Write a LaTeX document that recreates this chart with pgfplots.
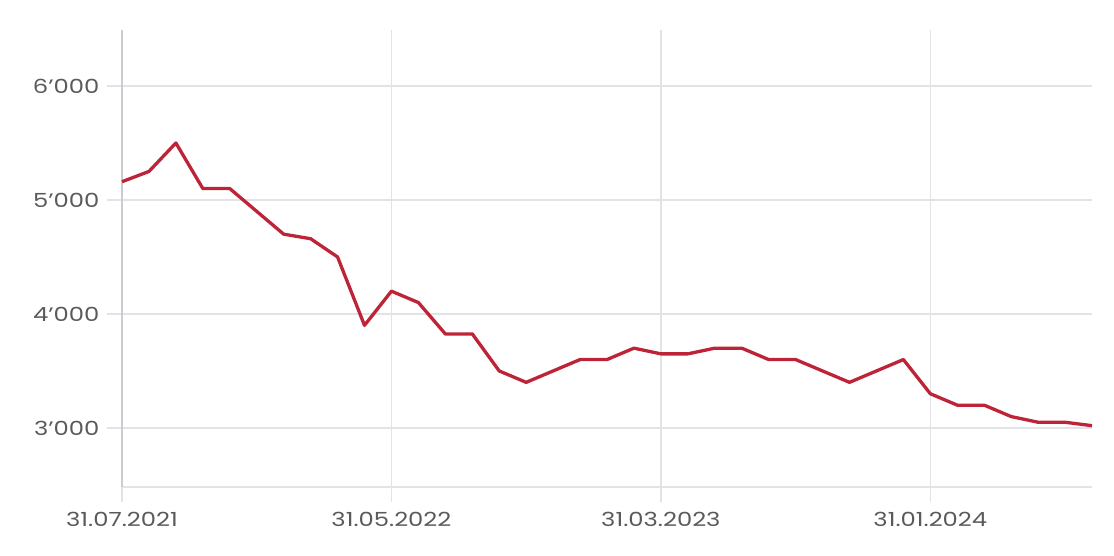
\documentclass[border=0pt]{standalone}
\usepackage{fontspec}
\setmainfont[FakeStretch=1.25]{Poppins}
\usepackage{pgfplots}
\pgfplotsset{compat=1.18}
\definecolor{linered}{HTML}{BE2438}
\definecolor{gridgray}{HTML}{E1E3E6}
\definecolor{axisgray}{HTML}{C9CCD1}
\definecolor{labelgray}{HTML}{5A5A5A}
\begin{document}
\begin{tikzpicture}
\useasboundingbox (-122bp,-69bp) rectangle (992bp,487bp);
\begin{axis}[
  scale only axis, width=970bp, height=457bp,
  xmin=0, xmax=36, ymin=2482, ymax=6491,
  axis lines*=left,
  x axis line style={draw=gridgray, line width=1.5bp, -},
  y axis line style={draw=axisgray, line width=1.8bp, -},
  xtick={0,10,20,30},
  xticklabels={31.07.2021,31.05.2022,31.03.2023,31.01.2024},
  ytick={3000,4000,5000,6000},
  yticklabels={3’000,4’000,5’000,6’000},
  grid=major,
  major grid style={draw=gridgray, line width=1.5bp},
  xtick pos=bottom, ytick pos=left,
  xtick align=outside, ytick align=outside,
  major tick length=15bp,
  tick style={draw=gridgray, line width=1.5bp},
  ticklabel style={font=\fontsize{19.5}{22}\selectfont, text=labelgray},
  xticklabel style={yshift=-7bp},
  yticklabel style={xshift=-4bp},
  clip=false,
]
\addplot[gridgray, line width=1.5bp, forget plot] coordinates {(0,2482) (0,2350)};
\addplot[gridgray, line width=1.5bp, forget plot] coordinates {(10,2482) (10,2350)};
\addplot[gridgray, line width=1.5bp, forget plot] coordinates {(20,2482) (20,2350)};
\addplot[gridgray, line width=1.5bp, forget plot] coordinates {(30,2482) (30,2350)};
\addplot[linered, line width=3.3bp, line join=round] coordinates {
(0,5160) (1,5250) (2,5500) (3,5100) (4,5100) (5,4900) (6,4700) (7,4660)
(8,4500) (9,3900) (10,4200) (11,4100) (12,3825) (13,3825) (14,3500)
(15,3400) (16,3500) (17,3600) (18,3600) (19,3700) (20,3650) (21,3650)
(22,3700) (23,3700) (24,3600) (25,3600) (26,3500) (27,3400) (28,3500)
(29,3600) (30,3300) (31,3200) (32,3200) (33,3100) (34,3050) (35,3050)
(36,3020)
};
\end{axis}
\end{tikzpicture}
\end{document}
